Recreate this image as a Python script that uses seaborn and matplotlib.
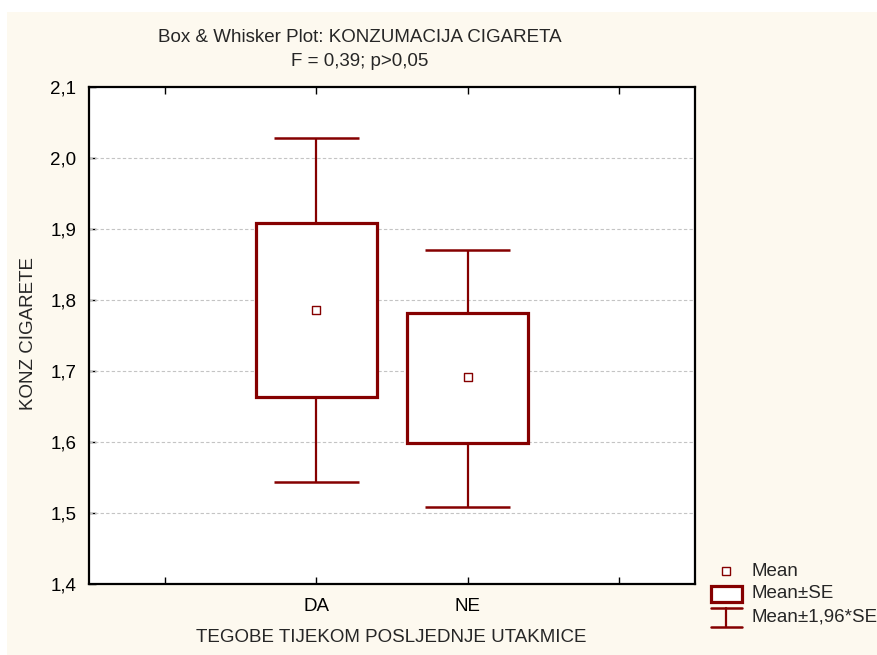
import matplotlib
matplotlib.use("Agg")
import matplotlib.pyplot as plt
import seaborn as sns
import pandas as pd
from matplotlib.patches import Rectangle
from matplotlib.lines import Line2D

# ---- data ----
categories = ["DA", "NE"]
means = [1.786, 1.692]
se_low = [1.663, 1.599]
se_high = [1.908, 1.782]
ci_low = [1.543, 1.509]
ci_high = [2.028, 1.871]
positions = [1, 2]
y_ticks = [1.4, 1.5, 1.6, 1.7, 1.8, 1.9, 2.0, 2.1]
y_tick_labels = ["1,4", "1,5", "1,6", "1,7", "1,8", "1,9", "2,0", "2,1"]
x_tick_labels = ["", "DA", "NE", ""]
legend_labels = ["Mean", "Mean±SE", "Mean±1,96*SE"]

RED = "#850000"
BG = "#fdf9ef"
FS = 13.5
W, H = 878, 655

sns.set_theme(style="white")
plt.rcParams['font.family'] = ['Liberation Sans', 'DejaVu Sans']


def fx(px):
    return px / W


def fy(py):
    return 1 - py / H


fig = plt.figure(figsize=(8.78, 6.55), dpi=100)
fig.patch.set_facecolor("white")
fig.patches.append(Rectangle((fx(7), 0), 1 - fx(7), fy(12),
                             transform=fig.transFigure, facecolor=BG,
                             edgecolor="none", zorder=-10))

ax = fig.add_axes([fx(89), fy(584), fx(695 - 89), (584 - 87) / H])
ax.set_facecolor("white")

df = pd.DataFrame({"pos": positions, "mean": means, "lo": se_low, "hi": se_high,
                   "clo": ci_low, "chi": ci_high, "cat": categories})

# whiskers
ax.vlines(df["pos"], df["clo"], df["chi"], color=RED, lw=1.6, zorder=2)
ax.hlines(df["clo"], df["pos"] - 0.28, df["pos"] + 0.28, color=RED, lw=1.8, zorder=2)
ax.hlines(df["chi"], df["pos"] - 0.28, df["pos"] + 0.28, color=RED, lw=1.8, zorder=2)
# boxes
ax.bar(df["pos"], df["hi"] - df["lo"], bottom=df["lo"], width=0.8,
       color="white", edgecolor=RED, linewidth=2.3, zorder=3)
# means
sns.scatterplot(data=df, x="pos", y="mean", marker="s", s=34,
                facecolor="white", edgecolor=RED, linewidth=1.0, ax=ax, zorder=4)

ax.set_xlim(-0.5, 3.5)
ax.set_ylim(1.4, 2.1)
ax.set_xticks([0, 1, 2, 3])
ax.set_xticklabels(x_tick_labels, fontsize=FS, color="black")
ax.set_yticks(y_ticks)
ax.set_yticklabels(y_tick_labels, fontsize=FS, color="black")
ax.tick_params(axis="both", direction="in", length=5, width=1, color="black",
               top=True, bottom=True, left=True, right=False)
ax.tick_params(axis="y", pad=9)
ax.tick_params(axis="x", pad=10)
for y in y_ticks[1:-1]:
    ax.axhline(y, color="#c4c4c4", lw=0.8, ls=(0, (3, 2)), zorder=1)
for s in ax.spines.values():
    s.set_color("black")
    s.set_linewidth(1.6)
    s.set_visible(True)

ax.set_xlabel("")
ax.set_ylabel("")
fig.text(fx(391), fy(637), "TEGOBE TIJEKOM POSLJEDNJE UTAKMICE",
         ha="center", va="center", fontsize=FS)
fig.text(fx(29), fy(334), "KONZ CIGARETE", rotation=90,
         ha="center", va="center", fontsize=FS)
fig.text(fx(360), fy(37), "Box & Whisker Plot: KONZUMACIJA CIGARETA",
         ha="center", va="center", fontsize=FS)
fig.text(fx(360), fy(61), "F = 0,39; p>0,05",
         ha="center", va="center", fontsize=FS)

# ---- legend (key drawn in figure pixel positions) ----
tf = fig.transFigure
fig.lines.append(Line2D([fx(726)], [fy(571)], marker="s", ls="none", markersize=5.5,
                        markerfacecolor="white", markeredgecolor=RED,
                        markeredgewidth=1.0, transform=tf))
fig.patches.append(Rectangle((fx(711), fy(602)), fx(742 - 711), (602 - 586) / H,
                             facecolor="white", edgecolor=RED, linewidth=2.3,
                             transform=tf))
fig.lines.append(Line2D([fx(711), fx(742)], [fy(608), fy(608)], color=RED, lw=1.8,
                        transform=tf))
fig.lines.append(Line2D([fx(711), fx(742)], [fy(627), fy(627)], color=RED, lw=1.8,
                        transform=tf))
fig.lines.append(Line2D([fx(726.5), fx(726.5)], [fy(608), fy(627)], color=RED, lw=1.6,
                        transform=tf))
for lab, ypx in zip(legend_labels, [571, 594, 617]):
    fig.text(fx(752), fy(ypx), lab, ha="left", va="center", fontsize=FS)

fig.savefig("out.png", dpi=100, facecolor=fig.get_facecolor())
